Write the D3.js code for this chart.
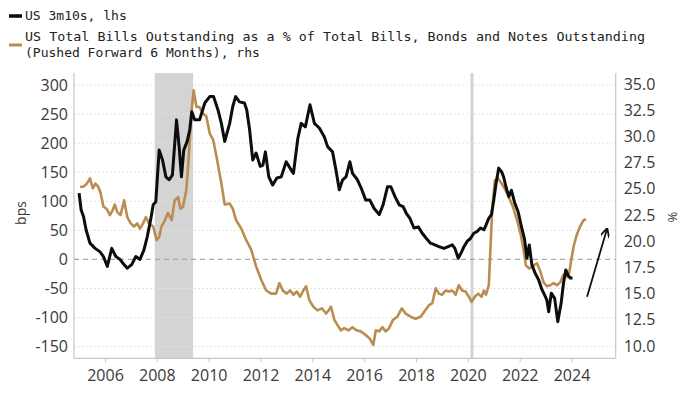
<!DOCTYPE html>
<html>
<head>
<meta charset="utf-8">
<script src="https://cdn.jsdelivr.net/npm/d3@7"></script>
<style>
  html, body { margin:0; padding:0; background:#fff; }
  svg { display:block; }
</style>
</head>
<body>
<svg id="svg__container" width="700" height="394"></svg>
<script>
// US 3m10s (bps, lhs) - x is decimal year
const spreadDates=[2005.0,2005.08,2005.17,2005.27,2005.42,2005.62,2005.81,2005.94,2006.09,2006.26,2006.42,2006.58,2006.7,2006.86,
    2007.03,2007.19,2007.35,2007.5,2007.63,2007.76,2007.86,2007.96,2008.09,2008.22,2008.35,2008.47,2008.6,2008.76,2008.86,2008.95,
    2009.04,2009.17,2009.27,2009.35,2009.46,2009.65,2009.85,2010.04,2010.19,2010.36,2010.49,2010.62,2010.81,2010.93,
    2011.04,2011.19,2011.38,2011.47,2011.58,2011.7,2011.83,2011.99,2012.09,2012.19,2012.32,2012.47,2012.63,2012.8,2012.99,
    2013.14,2013.27,2013.44,2013.57,2013.73,2013.91,2014.08,2014.27,2014.46,2014.59,2014.78,2014.91,2015.04,2015.17,2015.3,
    2015.45,2015.55,2015.74,2015.91,2016.06,2016.22,2016.38,2016.58,2016.73,2016.9,2017.03,2017.19,2017.35,2017.5,2017.63,
    2017.76,2017.92,2018.09,2018.24,2018.4,2018.56,2018.73,2018.88,2019.08,2019.24,2019.4,2019.5,2019.63,2019.76,2019.85,
    2019.97,2020.1,2020.23,2020.36,2020.49,2020.62,2020.7,2020.81,2020.91,2021.0,2021.09,2021.19,2021.3,2021.38,2021.47,
    2021.58,2021.68,2021.81,2021.94,2022.07,2022.19,2022.28,2022.37,2022.47,2022.6,2022.73,2022.86,2022.96,2023.05,2023.12,
    2023.22,2023.35,2023.47,2023.6,2023.69,2023.78,2023.86,2023.95,2024.04];
const spreadValues=[114,85,74,51,28,19,13,5,-12,19,5,0,-7,-15,
    -9,5,0,16,39,68,94,99,188,171,142,137,145,240,194,142,
    188,203,223,254,240,240,269,280,280,257,234,203,234,263,
    280,271,269,257,223,171,183,160,162,185,142,128,140,142,168,
    157,148,208,234,228,266,234,226,211,194,185,154,120,137,142,
    168,148,137,120,102,102,88,77,94,125,125,108,94,91,79,
    71,54,56,45,36,28,25,22,19,22,25,19,2,13,22,
    31,36,45,48,54,51,59,71,77,102,131,157,151,142,125,
    108,119,97,82,56,34,2,25,-9,-24,-35,-52,-61,-70,-90,
    -58,-67,-107,-75,-41,-18,-27,-32,-32];

// US total bills as % of bills, bonds and notes, pushed forward 6 months (rhs)
const billsDates=[2005.04,2005.17,2005.3,2005.42,2005.53,2005.63,2005.74,2005.83,2005.94,2006.06,2006.19,2006.3,2006.38,2006.47,
    2006.6,2006.74,2006.86,2006.99,2007.12,2007.24,2007.35,2007.47,2007.58,2007.7,2007.86,2007.99,2008.09,2008.18,2008.31,
    2008.43,2008.57,2008.69,2008.82,2008.91,2009.01,2009.14,2009.24,2009.33,2009.42,2009.53,2009.65,2009.78,2009.91,2010.04,
    2010.17,2010.3,2010.49,2010.62,2010.81,2010.93,2011.06,2011.26,2011.45,2011.64,2011.83,2012.03,2012.22,2012.41,2012.6,
    2012.73,2012.86,2013.01,2013.14,2013.27,2013.4,2013.53,2013.65,2013.76,2013.88,2014.04,2014.2,2014.37,2014.53,2014.63,
    2014.72,2014.85,2014.97,2015.1,2015.23,2015.4,2015.55,2015.7,2015.87,2016.06,2016.22,2016.35,2016.45,2016.58,2016.7,
    2016.83,2016.96,2017.11,2017.28,2017.45,2017.6,2017.79,2017.98,2018.18,2018.35,2018.5,2018.63,2018.76,2018.88,2019.01,
    2019.14,2019.27,2019.4,2019.53,2019.65,2019.78,2019.91,2020.04,2020.14,2020.27,2020.4,2020.53,2020.62,2020.7,2020.81,
    2020.87,2020.94,2021.04,2021.17,2021.3,2021.45,2021.58,2021.74,2021.9,2022.03,2022.15,2022.24,2022.37,2022.54,2022.67,
    2022.8,2022.92,2023.05,2023.18,2023.31,2023.44,2023.57,2023.69,2023.82,2023.91,2023.99,2024.08,2024.2,2024.33,2024.46,2024.56];
const billsValues=[25.2,25.2,25.5,26.0,25.05,25.5,25.2,24.6,23.3,23.1,22.5,23.0,23.5,22.8,
    22.5,23.9,22.3,21.7,21.4,21.7,21.2,21.7,22.3,21.7,21.4,20.1,20.4,21.4,22.0,
    22.7,22.0,23.9,24.2,23.1,23.3,24.9,28.4,32.2,34.4,32.8,32.8,32.2,31.9,30.3,
    29.7,28.1,25.5,23.5,23.6,23.1,22.0,21.2,20.1,19.2,17.6,16.3,15.3,15.0,15.0,
    16.0,15.3,15.0,15.3,14.9,15.2,14.7,15.3,15.7,14.4,13.75,13.4,13.6,13.1,13.4,
    13.75,12.5,12.0,11.5,11.7,11.5,11.8,11.5,11.4,11.05,10.7,10.1,11.5,11.4,11.8,
    11.4,11.7,12.5,12.8,13.6,13.1,12.8,12.6,12.8,13.4,13.9,14.1,15.5,15.0,14.9,
    15.3,15.2,15.3,14.9,15.8,15.3,15.2,14.7,14.2,14.7,15.0,14.7,15.3,14.9,15.8,
    19.2,23.0,25.8,26.0,25.5,24.9,24.2,23.3,22.0,20.75,19.2,17.7,17.4,17.7,17.9,
    17.1,16.1,15.7,15.8,16.0,15.8,16.1,16.8,16.6,16.95,18.2,19.5,20.6,21.4,22.0,22.1];

const leftTicks=[-150,-100,-50,0,50,100,150,200,250,300];
const rightTicks=[10,12.5,15,17.5,20,22.5,25,27.5,30,32.5,35];
const yearTicks=[2006,2008,2010,2012,2014,2016,2018,2020,2022,2024];
const recessions=[[2007.92,2009.40],[2020.10,2020.22]];
// arrow annotation: [year, rhs %] start and end
const arrowFrom=[2024.60,14.7];
const arrowTo=[2025.36,21.1];

const legendLabels=[
    "US 3m10s, lhs",
    "US Total Bills Outstanding as a % of Total Bills, Bonds and Notes Outstanding",
    "(Pushed Forward 6 Months), rhs"
];

const svgTag=d3.select("#svg__container");
const plotLeft=74, plotRight=615.7, plotTop=73, plotBottom=358.3;
const gold="#bb8c50";
const tickFont="'Open Sans', sans-serif";

const x=d3.scaleLinear().domain([2004.804,2025.705]).range([plotLeft,plotRight]);
const yLeft=d3.scaleLinear().domain([-170,320.6]).range([plotBottom,plotTop]);
const yRight=d3.scaleLinear().domain([8.83,36.05]).range([plotBottom,plotTop]);

// recession shading
svgTag.append("g").selectAll("rect")
    .data(recessions)
    .join("rect")
    .attr("x", d=>x(d[0]))
    .attr("width", d=>x(d[1])-x(d[0]))
    .attr("y", plotTop)
    .attr("height", plotBottom-plotTop)
    .attr("fill", "#d4d4d4");

// grid lines (lhs ticks)
svgTag.append("g").selectAll("line")
    .data(leftTicks)
    .join("line")
    .attr("x1", plotLeft).attr("x2", plotRight)
    .attr("y1", d=>yLeft(d)).attr("y2", d=>yLeft(d))
    .attr("stroke", d=>d===0 ? "#a8a8a8" : "#e2e2e2")
    .attr("stroke-width", d=>d===0 ? 1.3 : 1)
    .attr("stroke-dasharray", d=>d===0 ? "5,4" : "2,2");

// frame lines
const frameG=svgTag.append("g").attr("stroke","#c8c8c8").attr("stroke-width",1.2);
frameG.append("line").attr("x1",plotLeft).attr("x2",plotLeft).attr("y1",plotTop).attr("y2",plotBottom);
frameG.append("line").attr("x1",plotRight).attr("x2",plotRight).attr("y1",plotTop).attr("y2",plotBottom);
frameG.append("line").attr("x1",plotLeft).attr("x2",plotRight).attr("y1",plotBottom).attr("y2",plotBottom);

// axes
const xAxisG=svgTag.append("g")
    .attr("transform", `translate(0,${plotBottom})`)
    .call(d3.axisBottom(x).tickValues(yearTicks).tickFormat(d3.format("d")).tickSizeInner(4).tickSizeOuter(0).tickPadding(7));
const leftAxisG=svgTag.append("g")
    .attr("transform", `translate(${plotLeft},0)`)
    .call(d3.axisLeft(yLeft).tickValues(leftTicks).tickSize(0).tickPadding(6));
const rightAxisG=svgTag.append("g")
    .attr("transform", `translate(${plotRight},0)`)
    .call(d3.axisRight(yRight).tickValues(rightTicks).tickFormat(d3.format(".1f")).tickSize(0).tickPadding(8));

[xAxisG,leftAxisG,rightAxisG].forEach(g=>{
    g.select(".domain").remove();
    g.selectAll("text")
        .attr("font-family", tickFont)
        .attr("font-size", 16)
        .attr("fill", "#3a3a3a");
    g.selectAll("line").attr("stroke","#c8c8c8");
});
leftAxisG.selectAll("text").text(d=>d<0 ? "-"+Math.abs(d) : d);

svgTag.append("text")
    .attr("transform", "translate(26,213) rotate(-90)")
    .attr("text-anchor", "middle")
    .attr("font-family", tickFont).attr("font-size", 14).attr("fill", "#3a3a3a")
    .text("bps");
svgTag.append("text")
    .attr("transform", "translate(668,217) rotate(90)")
    .attr("text-anchor", "middle")
    .attr("font-family", tickFont).attr("font-size", 13).attr("fill", "#3a3a3a")
    .text("%");

// lines
const billsData=billsDates.map((d,i)=>[d,billsValues[i]]);
const spreadData=spreadDates.map((d,i)=>[d,spreadValues[i]]);

svgTag.append("path")
    .datum(billsData)
    .attr("fill","none")
    .attr("stroke",gold)
    .attr("stroke-width",2.6)
    .attr("stroke-linejoin","round")
    .attr("d", d3.line().x(d=>x(d[0])).y(d=>yRight(d[1])));

svgTag.append("path")
    .datum(spreadData)
    .attr("fill","none")
    .attr("stroke","#0d0d0d")
    .attr("stroke-width",3)
    .attr("stroke-linejoin","round")
    .attr("d", d3.line().x(d=>x(d[0])).y(d=>yLeft(d[1])));

// arrow
svgTag.append("defs").append("marker")
    .attr("id","arrowHead")
    .attr("viewBox","0 0 10 10")
    .attr("refX",8).attr("refY",5)
    .attr("markerWidth",5).attr("markerHeight",5)
    .attr("orient","auto")
    .append("path")
    .attr("d","M0,0 L10,5 L0,10")
    .attr("fill","none")
    .attr("stroke","#111")
    .attr("stroke-width",2);
svgTag.append("line")
    .attr("x1", x(arrowFrom[0])).attr("y1", yRight(arrowFrom[1]))
    .attr("x2", x(arrowTo[0])).attr("y2", yRight(arrowTo[1]))
    .attr("stroke","#111")
    .attr("stroke-width",1.8)
    .attr("marker-end","url(#arrowHead)");

// legend
const legendG=svgTag.append("g")
    .attr("font-family","'DejaVu Sans Mono', monospace")
    .attr("font-size",13)
    .attr("fill","#222");
legendG.append("line").attr("x1",9).attr("x2",22).attr("y1",16).attr("y2",16)
    .attr("stroke","#0d0d0d").attr("stroke-width",3.5);
legendG.append("line").attr("x1",9).attr("x2",22).attr("y1",45).attr("y2",45)
    .attr("stroke",gold).attr("stroke-width",3);
legendG.append("text").attr("x",25).attr("y",20).text(legendLabels[0]);
legendG.append("text").attr("x",25).attr("y",41)
    .attr("textLength",620).attr("lengthAdjust","spacingAndGlyphs")
    .text(legendLabels[1]);
legendG.append("text").attr("x",25).attr("y",57).text(legendLabels[2]);
</script>
</body>
</html>
